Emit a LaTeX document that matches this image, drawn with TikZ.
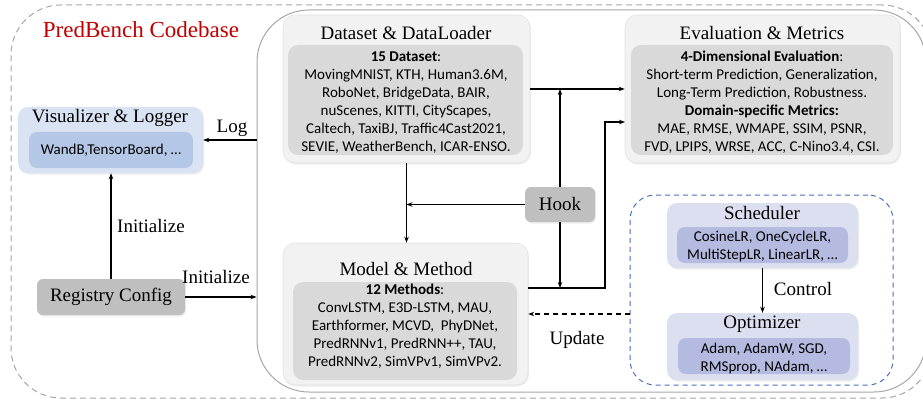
\documentclass[tikz,border=0pt]{standalone}
\usepackage{fontspec}
\setmainfont{Liberation Serif}
\newfontfamily\bodyfont{Carlito}
\usetikzlibrary{arrows.meta,shadows,calc}

\definecolor{panelgray}{HTML}{F2F2F2}
\definecolor{paneledge}{HTML}{E3E3E3}
\definecolor{innergray}{HTML}{D9D9D9}
\definecolor{tabgray}{HTML}{BFBFBF}
\definecolor{coreedge}{HTML}{A6A6A6}
\definecolor{frameedge}{HTML}{A6A6A6}
\definecolor{visouter}{HTML}{DAE3F3}
\definecolor{visinner}{HTML}{B4C7E7}
\definecolor{optouter}{HTML}{DCDFF0}
\definecolor{optinner}{HTML}{B4BAE0}
\definecolor{optedge}{HTML}{4A6FC0}
\definecolor{brandred}{HTML}{C00000}

\tikzset{
  softshadow/.style={drop shadow={opacity=0.15, shadow xshift=1pt, shadow yshift=-1.5pt}},
  panel/.style={rounded corners=12pt, fill=panelgray, draw=paneledge, line width=0.6pt, softshadow},
  innerbox/.style={rounded corners=10pt, fill=innergray},
  tab/.style={rounded corners=6pt, fill=tabgray, softshadow},
  vispanel/.style={rounded corners=10pt, fill=visouter, softshadow},
  visbox/.style={rounded corners=8pt, fill=visinner},
  optpanel/.style={rounded corners=10pt, fill=optouter, softshadow},
  optbox/.style={rounded corners=8pt, fill=optinner},
  title/.style={font=\fontsize{19}{22}\selectfont, inner sep=0pt},
  body/.style={font=\bodyfont\fontsize{15}{18}\selectfont, align=center, inner sep=0pt},
  link/.style={line width=1.1pt, -{Stealth[length=6pt,width=4.5pt]}},
}

\begin{document}
\begin{tikzpicture}[x=1pt,y=-1pt]
\useasboundingbox (0,0) rectangle (923,401);

% framing outlines
\node[draw=frameedge, line width=1pt, dash pattern=on 6pt off 4pt, rounded corners=50pt,
      minimum width=921pt, minimum height=393pt] (frame) at (471.5,201.5) {};
\node[draw=coreedge, line width=1pt, rounded corners=52pt,
      minimum width=669pt, minimum height=382pt] (core) at (591.5,201) {};
\node[font=\fontsize{23}{26}\selectfont, text=brandred, inner sep=0pt] (brand) at (141,30) {PredBench Codebase};

% dataset panel
\node[panel, minimum width=247pt, minimum height=148pt] (ds) at (406.5,89) {};
\node[innerbox, minimum width=235pt, minimum height=110pt] (dsin) at (405.5,100) {};
\node[title] (dstitle) at (406,33) {Dataset \& DataLoader};
\node[body] (dstext) at (406,103) {\textbf{15 Dataset}:\\MovingMNIST, KTH, Human3.6M,\\RoboNet, BridgeData, BAIR,\\nuScenes, KITTI, CityScapes,\\Caltech, TaxiBJ, Traffic4Cast2021,\\SEVIE, WeatherBench, ICAR-ENSO.};

% evaluation panel
\node[panel, minimum width=275pt, minimum height=148pt] (ev) at (762.5,89) {};
\node[innerbox, minimum width=262pt, minimum height=110pt] (evin) at (762,100) {};
\node[title] (evtitle) at (762,33) {Evaluation \& Metrics};
\node[body] (evtext) at (762,102.5) {\textbf{4-Dimensional Evaluation}:\\Short-term Prediction, Generalization,\\Long-Term Prediction, Robustness.\\\textbf{Domain-specific Metrics:}\\MAE, RMSE, WMAPE, SSIM, PSNR,\\FVD, LPIPS, WRSE, ACC, C-Nino3.4, CSI.};

% visualizer panel
\node[vispanel, minimum width=185pt, minimum height=66pt] (vis) at (110.5,140) {};
\node[visbox, minimum width=164pt, minimum height=36pt] (visin) at (111,150) {};
\node[title] (vistitle) at (110,118) {Visualizer \& Logger};
\node[body] (vistext) at (111,150) {WandB,TensorBoard, …};

% registry and hook
\node[tab, minimum width=148pt, minimum height=36pt, font=\fontsize{19}{22}\selectfont] (reg) at (111,297) {Registry Config};
\node[tab, minimum width=70pt, minimum height=35pt, font=\fontsize{19}{22}\selectfont] (hook) at (560,204.5) {Hook};

% model panel
\node[panel, minimum width=245pt, minimum height=142pt] (mm) at (405.5,314) {};
\node[innerbox, minimum width=224pt, minimum height=98pt] (mmin) at (405,331) {};
\node[title] (mmtitle) at (406,269) {Model \& Method};
\node[body] (mmtext) at (405,326) {\textbf{12 Methods}:\\ConvLSTM, E3D-LSTM, MAU,\\Earthformer, MCVD,~~PhyDNet,\\PredRNNv1, PredRNN++, TAU,\\PredRNNv2, SimVPv1, SimVPv2.};

% optimisation group
\node[draw=optedge, line width=1pt, dash pattern=on 5pt off 4pt, rounded corners=25pt,
      minimum width=263pt, minimum height=190pt] (optgroup) at (761.5,290) {};
\node[optpanel, minimum width=191pt, minimum height=65pt] (sch) at (762.5,235.5) {};
\node[optbox, minimum width=171pt, minimum height=36pt] (schin) at (762.5,245) {};
\node[title] (schtitle) at (762,213) {Scheduler};
\node[body] (schtext) at (762.5,246.5) {CosineLR, OneCycleLR,\\MultiStepLR, LinearLR, …};

\node[optpanel, minimum width=191pt, minimum height=67pt] (opt) at (762.5,346.5) {};
\node[optbox, minimum width=172pt, minimum height=36pt] (optin) at (764,356) {};
\node[title] (opttitle) at (762,324) {Optimizer};
\node[body] (opttext) at (764,358) {Adam, AdamW, SGD,\\RMSprop, NAdam, …};

% connectors
\coordinate (mr) at (528,288);
\coordinate (er) at (625,122);
\draw[link] (core.west |- vis.east) -- (vis.east);
\draw[link] (reg.north) -- (reg.north |- vis.south);
\draw[link] (reg.east) -- (reg.east -| core.west);
\draw[link] (ds.south) -- (ds.south |- mm.north);
\draw[link] (hook.west) -- (hook.west -| ds.south);
\draw[link] (hook.north) -- (hook.north |- ds.east);
\draw[link] (ds.east) -- (ds.east -| ev.west);
\draw[link] (hook.south) -- (hook.south |- mr);
\draw[link] (mr) -- ++(77,0) |- (er);
\draw[link, dash pattern=on 5pt off 4pt] (mm.east -| optgroup.west) -- (mm.east);
\draw[link] (sch.south) -- (opt.north);

% connector labels
\node[title] (loglbl) at (232,128) {Log};
\node[title] (initup) at (151,226) {Initialize};
\node[title] (initright) at (216,277) {Initialize};
\node[title] (updlbl) at (577,340) {Update};
\node[title] (ctrllbl) at (803,289) {Control};
\end{tikzpicture}
\end{document}
